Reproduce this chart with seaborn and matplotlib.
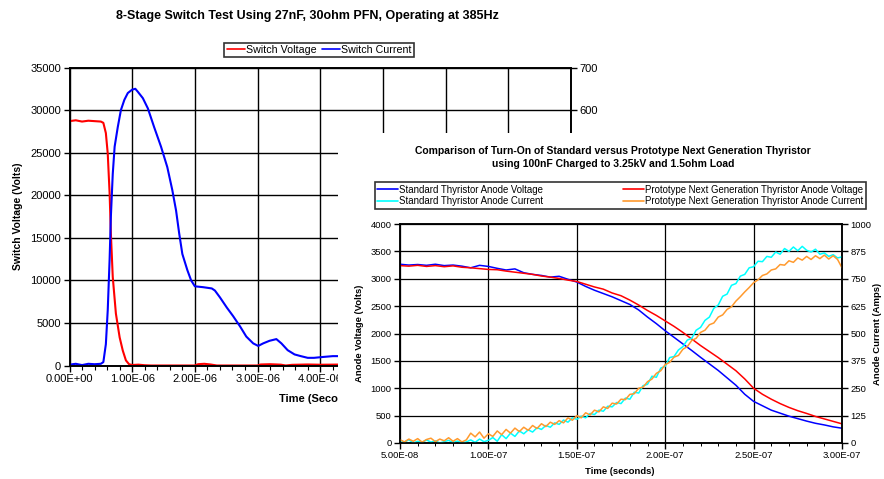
import numpy as np
import matplotlib
matplotlib.use("Agg")
import matplotlib.pyplot as plt
from matplotlib.ticker import MultipleLocator, FuncFormatter
from matplotlib.lines import Line2D
from matplotlib.patches import Rectangle
import seaborn as sns

# ---------------- 8-stage switch test (time in microseconds) ----------------
sw_v_time_us = [0, 0.1, 0.2, 0.3, 0.4, 0.5, 0.54, 0.58, 0.61, 0.64, 0.66, 0.69,
                0.74, 0.80, 0.85, 0.90, 0.95, 1.0, 1.1, 1.2, 1.3, 2.0, 2.05, 2.15,
                2.25, 2.35, 3.0, 3.05, 3.2, 3.37, 3.45, 3.55, 3.8, 4.0, 4.3, 4.6]
sw_voltage = [28700, 28800, 28650, 28750, 28700, 28650, 28500, 27300, 24900, 20200, 15500, 10400,
              6100, 3300, 1750, 600, 150, 60, 100, 30, 0, 0, 150, 200,
              120, 0, 0, 120, 150, 100, 0, 80, 120, 90, 110, 100]

sw_i_time_us = [0, 0.1, 0.2, 0.3, 0.4, 0.5, 0.54, 0.58, 0.61, 0.64, 0.66, 0.69,
                0.72, 0.77, 0.82, 0.875, 0.93, 1.0, 1.05, 1.09, 1.17, 1.25, 1.35, 1.46,
                1.56, 1.64, 1.70, 1.75, 1.80, 1.88, 1.94, 2.0, 2.13, 2.27, 2.32, 2.40,
                2.51, 2.61, 2.72, 2.82, 2.93, 3.01, 3.09, 3.19, 3.30, 3.38, 3.48, 3.59,
                3.69, 3.80, 3.90, 4.04, 4.2, 4.4, 4.6]
sw_current = [2, 4, 1, 4, 3, 4, 8, 50, 130, 250, 350, 450,
              514, 560, 600, 624, 640, 648, 650, 643, 628, 604, 560, 514,
              466, 412, 364, 310, 262, 224, 200, 186, 184, 181, 176, 160,
              136, 116, 92, 68, 52, 46, 52, 58, 62, 52, 36, 26,
              22, 18, 18, 20, 22, 22, 21]

# ---------------- thyristor turn-on comparison (time in ns) ----------------
thy_v_time_ns = np.arange(50, 301, 5)
std_voltage = [3265, 3250, 3260, 3245, 3265, 3240, 3250, 3230, 3200, 3245,
               3225, 3190, 3160, 3180, 3110, 3080, 3060, 3030, 3045, 2990,
               2940, 2860, 2790, 2730, 2670, 2600, 2530, 2430, 2300, 2180,
               2050, 1930, 1810, 1690, 1565, 1445, 1325, 1190, 1055, 890,
               760, 680, 600, 545, 490, 445, 400, 360, 330, 295,
               270]
proto_voltage = [3240, 3230, 3245, 3225, 3240, 3220, 3235, 3210, 3200, 3185,
                 3170, 3165, 3140, 3120, 3100, 3080, 3050, 3030, 3005, 2975,
                 2950, 2900, 2850, 2810, 2740, 2690, 2610, 2520, 2420, 2330,
                 2230, 2130, 2020, 1900, 1780, 1670, 1560, 1440, 1320, 1170,
                 1000, 890, 800, 720, 650, 590, 540, 485, 440, 395,
                 350]

thy_i_time_ns = np.arange(50, 300.1, 2.5)
std_current = [12, 3, 15, 0, 8, 2, 14, 4, 10, 0,
               6, 12, 2, 9, 0, 5, 14, 3, 18, 6,
               12, 25, 8, 38, 20, 45, 30, 55, 42, 60,
               50, 70, 62, 80, 72, 92, 85, 105, 95, 115,
               108, 122, 115, 135, 130, 150, 145, 168, 165, 185,
               180, 205, 200, 232, 228, 262, 268, 305, 300, 342,
               350, 390, 395, 425, 440, 470, 478, 515, 528, 560,
               575, 615, 630, 670, 680, 720, 728, 762, 770, 800,
               805, 830, 828, 852, 848, 872, 862, 888, 875, 895,
               878, 898, 880, 872, 885, 862, 868, 852, 860, 845,
               850]
proto_current = [15, 5, 18, 8, 20, 4, 16, 22, 6, 18,
                 10, 24, 8, 20, 5, 14, 45, 28, 50, 22,
                 42, 30, 55, 38, 62, 45, 68, 52, 72, 58,
                 80, 66, 88, 75, 95, 85, 102, 92, 115, 104,
                 125, 115, 138, 128, 150, 142, 165, 158, 182, 178,
                 200, 198, 222, 225, 250, 255, 280, 292, 318, 330,
                 358, 368, 392, 400, 428, 440, 468, 478, 505, 515,
                 540, 548, 575, 585, 610, 622, 648, 668, 690, 710,
                 732, 745, 765, 772, 790, 795, 815, 812, 832, 825,
                 845, 835, 852, 838, 855, 842, 858, 840, 855, 838,
                 800]

W, H = 884, 479
sns.set_style("white")
plt.rcParams["font.family"] = ["Liberation Sans", "DejaVu Sans"]
plt.rcParams["text.color"] = "black"
plt.rcParams["axes.labelcolor"] = "black"
plt.rcParams["xtick.color"] = "black"
plt.rcParams["ytick.color"] = "black"

fig = plt.figure(figsize=(W / 100, H / 100), dpi=100)
fig.patch.set_facecolor("white")


def px_box(left, top, right, bottom):
    return [left / W, 1 - bottom / H, (right - left) / W, (bottom - top) / H]


sci = FuncFormatter(lambda v, p: f"{v:.2E}")

# ======================= switch test chart =======================
ax1 = fig.add_axes(px_box(69.5, 67.5, 571, 365.5))
ax1.set_zorder(1)
sns.lineplot(x=np.array(sw_v_time_us) * 1e-6, y=sw_voltage, ax=ax1,
             color="#ff0000", lw=1.5)
ax1.set_xlim(0, 8e-6)
ax1.set_ylim(0, 35000)
ax1.xaxis.set_major_locator(MultipleLocator(1e-6))
ax1.xaxis.set_minor_locator(MultipleLocator(2e-7))
ax1.yaxis.set_major_locator(MultipleLocator(5000))
ax1.xaxis.set_major_formatter(sci)
ax1.grid(True, which="major", color="black", lw=1.0)
ax1.set_axisbelow(True)
ax1.tick_params(which="major", bottom=True, left=True, direction="out",
                length=4, width=1, labelsize=8, pad=2)
ax1.tick_params(which="minor", bottom=True, direction="out", length=3, width=0.8)
ax1.set_ylabel("Switch Voltage (Volts)", fontsize=7.5, fontweight="bold", va="center")
ax1.yaxis.set_label_coords((18 - 69.5) / (571 - 69.5), 0.5)
ax1.set_xlabel("Time (Seconds)", fontsize=8, fontweight="bold", va="center")
ax1.xaxis.set_label_coords(0.5, (365.5 - 399) / (365.5 - 67.5))

ax1b = ax1.twinx()
ax1b.set_zorder(1)
sns.lineplot(x=np.array(sw_i_time_us) * 1e-6, y=sw_current, ax=ax1b,
             color="#0000ff", lw=1.5)
ax1b.set_ylim(0, 700)
ax1b.yaxis.set_major_locator(MultipleLocator(100))
# only the upper current labels stay uncovered by the second panel
ax1b.yaxis.set_major_formatter(FuncFormatter(lambda v, p: f"{v:.0f}" if v >= 600 else ""))
ax1b.tick_params(right=True, direction="out", length=4, width=1, labelsize=8, pad=2)
ax1b.set_ylabel("")

for a in (ax1, ax1b):
    for s in a.spines.values():
        s.set_color("black")
        s.set_linewidth(1.2)

fig.text(307 / W, 1 - 16 / H,
         "8-Stage Switch Test Using 27nF, 30ohm PFN, Operating at 385Hz",
         ha="center", va="center", fontsize=9, fontweight="bold")
leg1 = fig.legend(
    [Line2D([], [], color="#ff0000", lw=1.2), Line2D([], [], color="#0000ff", lw=1.2)],
    ["Switch Voltage", "Switch Current"],
    loc="center", bbox_to_anchor=(319 / W, 1 - 50 / H), ncol=2,
    fontsize=7.7, frameon=True, fancybox=False, edgecolor="black",
    handlelength=1.7, handletextpad=0.1, columnspacing=0.5, borderpad=0.2,
    borderaxespad=0)
leg1.get_frame().set_linewidth(1.2)

# white panel carrying the second chart
fig.patches.append(Rectangle((338 / W, 0), 1 - 338 / W, 1 - 133 / H,
                             transform=fig.transFigure, facecolor="white",
                             edgecolor="none", zorder=2))

# ======================= thyristor comparison chart =======================
ax2 = fig.add_axes(px_box(400, 224, 842, 443))
ax2.set_zorder(3)
ax2.set_facecolor("white")
sns.lineplot(x=thy_v_time_ns * 1e-9, y=std_voltage, ax=ax2, color="#0000ff", lw=1.1)
sns.lineplot(x=thy_v_time_ns * 1e-9, y=proto_voltage, ax=ax2, color="#ff0000", lw=1.1)
ax2.set_xlim(5e-8, 3e-7)
ax2.set_ylim(0, 4000)
ax2.xaxis.set_major_locator(MultipleLocator(5e-8))
ax2.xaxis.set_minor_locator(MultipleLocator(1e-8))
ax2.yaxis.set_major_locator(MultipleLocator(500))
ax2.xaxis.set_major_formatter(sci)
ax2.grid(True, which="major", color="black", lw=0.9)
ax2.set_axisbelow(True)
ax2.tick_params(which="major", bottom=True, left=True, direction="out",
                length=4, width=1, labelsize=6.8, pad=2)
ax2.tick_params(which="minor", bottom=True, direction="out", length=2.5, width=0.7)
ax2.set_ylabel("Anode Voltage (Volts)", fontsize=6.8, fontweight="bold", va="center")
ax2.yaxis.set_label_coords((360 - 400) / 442, 0.5)
ax2.set_xlabel("Time (seconds)", fontsize=6.8, fontweight="bold", va="center")
ax2.xaxis.set_label_coords((620 - 400) / 442, (443 - 472) / 219)

ax2b = ax2.twinx()
ax2b.set_zorder(3)
sns.lineplot(x=thy_i_time_ns * 1e-9, y=std_current, ax=ax2b, color="#00ffff", lw=1.1)
sns.lineplot(x=thy_i_time_ns * 1e-9, y=proto_current, ax=ax2b, color="#ff9a2e", lw=1.1)
ax2b.set_ylim(0, 1000)
ax2b.yaxis.set_major_locator(MultipleLocator(125))
ax2b.tick_params(right=True, direction="out", length=4, width=1, labelsize=6.8, pad=2)
ax2b.set_ylabel("Anode Current (Amps)", fontsize=6.8, fontweight="bold",
                rotation=90, va="center")
ax2b.yaxis.set_label_coords((878 - 400) / 442, 0.5)

for a in (ax2, ax2b):
    for s in a.spines.values():
        s.set_color("black")
        s.set_linewidth(1.1)

fig.text(613 / W, 1 - 151 / H,
         "Comparison of Turn-On of Standard versus Prototype Next Generation Thyristor",
         ha="center", va="center", fontsize=7.5, fontweight="bold", zorder=5)
fig.text(613 / W, 1 - 164.5 / H,
         "using 100nF Charged to 3.25kV and 1.5ohm Load",
         ha="center", va="center", fontsize=7.5, fontweight="bold", zorder=5)

leg2 = fig.legend(
    [Line2D([], [], color="#0000ff", lw=1.2), Line2D([], [], color="#00ffff", lw=1.2),
     Line2D([], [], color="#ff0000", lw=1.2), Line2D([], [], color="#ff9a2e", lw=1.2)],
    ["Standard Thyristor Anode Voltage", "Standard Thyristor Anode Current",
     "Prototype Next Generation Thyristor Anode Voltage",
     "Prototype Next Generation Thyristor Anode Current"],
    loc="center", bbox_to_anchor=(375 / W, 1 - 209 / H, (866 - 375) / W, 27 / H),
    mode="expand", ncol=2, fontsize=6.9, frameon=True, fancybox=False,
    edgecolor="black", handlelength=2.2, handletextpad=0.1, labelspacing=0.15,
    borderpad=0.25, borderaxespad=0)
leg2.get_frame().set_linewidth(1.2)
leg2.set_zorder(6)

fig.savefig("out.png", dpi=100, facecolor="white")
